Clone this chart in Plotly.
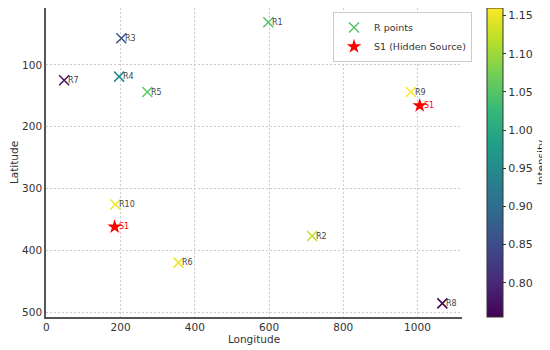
import plotly.graph_objects as go

r_names = ["R1", "R2", "R3", "R4", "R5", "R6", "R7", "R8", "R9", "R10"]
r_lon = [598, 716, 202, 196, 272, 356, 48, 1067, 982, 186]
r_lat = [31, 377, 57, 119, 144, 420, 125, 486, 144, 326]
r_intensity = [1.05, 1.12, 0.86, 0.95, 1.06, 1.15, 0.77, 0.757, 1.16, 1.15]

s_names = ["S1", "S1"]
s_lon = [1006, 184]
s_lat = [166, 362]

cmin, cmax = 0.755, 1.16
font = "DejaVu Sans"

fig = go.Figure()
fig.add_trace(go.Scatter(
    x=r_lon, y=r_lat, mode="markers", name="R points",
    marker=dict(
        symbol="x-thin", size=10,
        color=r_intensity, colorscale="Viridis", cmin=cmin, cmax=cmax,
        line=dict(width=1.5, color=r_intensity, colorscale="Viridis", cmin=cmin, cmax=cmax),
        colorbar=dict(
            title=dict(text="Intensity", side="right", font=dict(size=10.5, family=font, color="#333")),
            x=0.884, xanchor="left", xref="container", y=0.5, yanchor="middle",
            len=1.0, lenmode="fraction", thickness=16, xpad=0, ypad=0,
            tickvals=[0.80, 0.85, 0.90, 0.95, 1.00, 1.05, 1.10, 1.15],
            ticktext=["0.80", "0.85", "0.90", "0.95", "1.00", "1.05", "1.10", "1.15"],
            ticks="outside", ticklen=3, tickcolor="#333",
            tickfont=dict(size=11, family=font, color="#333"),
            outlinewidth=1, outlinecolor="#333",
        ),
    ),
))
fig.add_trace(go.Scatter(
    x=s_lon, y=s_lat, mode="markers", name="S1 (Hidden Source)",
    marker=dict(symbol="star", size=11, color="red"),
))

for name, x, y in zip(r_names, r_lon, r_lat):
    fig.add_annotation(x=x, y=y, text=name, showarrow=False, xanchor="left", yanchor="middle",
                       xshift=2, font=dict(size=8, color="#444444", family=font))
for name, x, y in zip(s_names, s_lon, s_lat):
    fig.add_annotation(x=x, y=y, text=name, showarrow=False, xanchor="left", yanchor="middle",
                       xshift=2, font=dict(size=8, color="red", family=font))

axis_common = dict(
    showgrid=True, gridcolor="#cccccc", griddash="2px,2px", gridwidth=0.8,
    zeroline=False, showline=True, linecolor="#555555", linewidth=1.5,
    tickfont=dict(size=10.5, family=font, color="#333"),
    ticks="", mirror=False,
)
fig.update_xaxes(range=[-1, 1120], tickvals=[0, 200, 400, 600, 800, 1000],
                 title=dict(text="Longitude", font=dict(size=10.5, family=font, color="#333"), standoff=2),
                 **axis_common)
fig.update_yaxes(range=[508, 8], tickvals=[100, 200, 300, 400, 500],
                 title=dict(text="Latitude", font=dict(size=10.5, family=font, color="#333"), standoff=4),
                 **axis_common)

fig.update_layout(
    width=542, height=342,
    margin=dict(l=38, r=88, t=0, b=33, autoexpand=False),
    plot_bgcolor="white", paper_bgcolor="white",
    font=dict(family=font),
    legend=dict(
        x=0.69, y=0.987, xanchor="left", yanchor="top",
        bgcolor="rgba(255,255,255,0.9)", bordercolor="#cccccc", borderwidth=1,
        font=dict(size=9.5, family=font, color="#333"),
        tracegroupgap=0, itemwidth=30,
    ),
)
fig.write_html("out.html")
